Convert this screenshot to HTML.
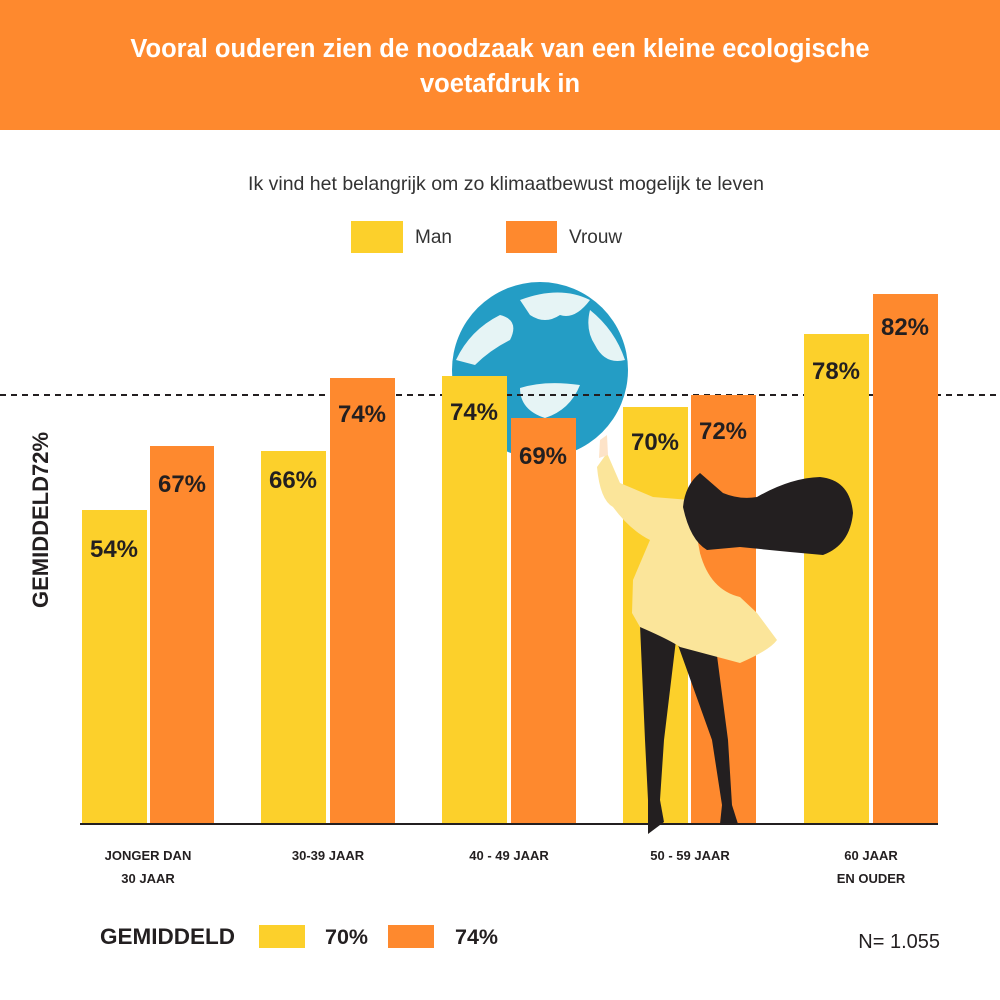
<!DOCTYPE html>
<html><head><meta charset="utf-8"><style>
body{margin:0;width:1000px;height:1000px;background:#fff;font-family:"Liberation Sans",sans-serif;overflow:hidden;position:relative}
</style></head><body>
<svg width="1000" height="1000" xmlns="http://www.w3.org/2000/svg" style="position:absolute;left:0;top:0">
<rect x="0" y="0" width="1000" height="130" fill="#FE892E"/>
<g font-family="Liberation Sans, sans-serif" font-weight="bold" font-size="25.5" fill="#fff" text-anchor="middle">
<text x="500" y="57">Vooral ouderen zien de noodzaak van een kleine ecologische</text>
<text x="500" y="92">voetafdruk in</text>
</g>
<text x="506" y="190" font-size="19.5" fill="#333" text-anchor="middle">Ik vind het belangrijk om zo klimaatbewust mogelijk te leven</text>
<rect x="351" y="221" width="52" height="32" fill="#FCD02B"/>
<text x="415" y="243" font-size="19" fill="#333">Man</text>
<rect x="506" y="221" width="51" height="32" fill="#FE892E"/>
<text x="569" y="243" font-size="19" fill="#333">Vrouw</text>
<!-- globe -->
<circle cx="540" cy="370" r="88" fill="#249DC5"/>
<path d="M456,360 Q470,330 500,315 Q520,320 510,340 Q490,350 475,365 Z M520,300 Q560,285 590,300 Q575,320 560,315 Q545,325 530,315 Z M590,310 Q615,330 625,360 Q605,365 595,345 Q585,330 590,310 Z M520,388 Q545,380 580,385 Q570,410 545,418 Q520,410 520,388 Z" fill="#E6F4F5"/>
<line x1="0" y1="395" x2="1000" y2="395" stroke="#231f20" stroke-width="2" stroke-dasharray="6,5"/>
<g>
<rect x="82" y="510" width="65" height="314" fill="#FCD02B"/>
<rect x="150" y="446" width="64" height="378" fill="#FE892E"/>
<rect x="261" y="451" width="65" height="373" fill="#FCD02B"/>
<rect x="330" y="378" width="65" height="446" fill="#FE892E"/>
<rect x="442" y="376" width="65" height="448" fill="#FCD02B"/>
<rect x="511" y="418" width="65" height="406" fill="#FE892E"/>
<rect x="623" y="407" width="65" height="417" fill="#FCD02B"/>
<rect x="691" y="395" width="65" height="429" fill="#FE892E"/>
<rect x="804" y="334" width="65" height="490" fill="#FCD02B"/>
<rect x="873" y="294" width="65" height="530" fill="#FE892E"/>
</g>
<g font-family="Liberation Sans, sans-serif" font-weight="bold" font-size="24" fill="#231f20" text-anchor="middle">
<text x="114" y="557">54%</text><text x="182" y="492">67%</text>
<text x="293" y="488">66%</text><text x="362" y="422">74%</text>
<text x="474" y="420">74%</text><text x="543" y="464">69%</text>
<text x="655" y="450">70%</text><text x="723" y="439">72%</text>
<text x="836" y="379">78%</text><text x="905" y="335">82%</text>
</g>
<!-- woman -->
<path d="M640,625 L676,640 L664,740 L660,800 L648,800 L645,740 Z" fill="#231f20"/>
<path d="M678,645 L716,648 L728,740 L732,805 L722,805 L712,740 Z" fill="#231f20"/>
<path d="M648,800 L660,800 L664,822 L648,834 Z" fill="#231f20"/>
<path d="M722,805 L732,805 L738,824 L720,824 Z" fill="#231f20"/>
<path d="M597,467 Q600,500 613,507 Q630,530 650,540 L633,580 L632,613 L640,627 Q670,640 680,647 L740,663 Q770,650 777,640 L757,613 L740,597 L713,580 L700,553 L690,500 L653,497 L620,483 L607,453 Z" fill="#FBE59A"/>
<path d="M700,553 Q710,590 740,597 Q752,570 745,553 Z" fill="#FE892E"/>
<path d="M600,440 L607,435 L608,455 L599,458 Z" fill="#FDE3C8"/>
<path d="M683,507 Q685,485 700,473 L723,493 Q740,500 757,497 Q790,478 820,477 Q850,480 853,513 Q850,545 823,555 L790,552 L740,547 L707,550 Q690,540 683,507 Z" fill="#231f20"/>
<line x1="80" y1="824" x2="938" y2="824" stroke="#231f20" stroke-width="2"/>
<text transform="translate(48,520) rotate(-90)" font-size="22" font-weight="bold" fill="#231f20" text-anchor="middle">GEMIDDELD72%</text>
<g font-size="13" font-weight="bold" fill="#231f20" text-anchor="middle">
<text x="148" y="860">JONGER DAN</text><text x="148" y="883">30 JAAR</text>
<text x="328" y="860">30-39 JAAR</text>
<text x="509" y="860">40 - 49 JAAR</text>
<text x="690" y="860">50 - 59 JAAR</text>
<text x="871" y="860">60 JAAR</text><text x="871" y="883">EN  OUDER</text>
</g>
<text x="100" y="944" font-size="22.5" font-weight="bold" fill="#231f20">GEMIDDELD</text>
<rect x="259" y="925" width="46" height="23" fill="#FCD02B"/>
<text x="325" y="944" font-size="21.5" font-weight="bold" fill="#231f20">70%</text>
<rect x="388" y="925" width="46" height="23" fill="#FE892E"/>
<text x="455" y="944" font-size="21.5" font-weight="bold" fill="#231f20">74%</text>
<text x="940" y="948" font-size="20" fill="#231f20" text-anchor="end">N= 1.055</text>
</svg>
</body></html>
